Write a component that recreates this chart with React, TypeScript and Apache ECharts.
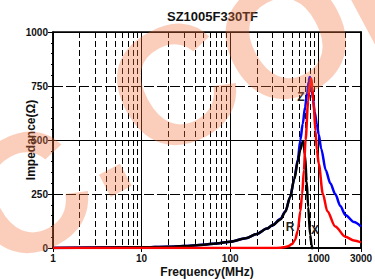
import React, { useEffect, useRef } from "react";
import * as echarts from "echarts";

const TITLE = "SZ1005F330TF";
const X_NAME = "Frequency(MHz)";
const Y_NAME = "Impedance(Ω)";
const X_MAJOR = [1, 10, 100, 1000, 3000];
const X_MINOR = [2, 3, 4, 5, 6, 7, 8, 9, 20, 30, 40, 50, 60, 70, 80, 90, 200, 300, 400, 500, 600, 700, 800, 900, 2000];

// Z (blue)
const zFreq = [1, 10, 20, 30, 50, 70, 100, 150, 200, 260, 300, 370, 420, 475, 530, 580, 620, 660, 700, 740, 770, 790, 810, 830, 860, 900, 950, 1000, 1066, 1200, 1350, 1536, 1750, 2000, 2500, 3000];
const zVal = [0.3, 3, 6, 9, 15, 21, 29, 45, 65, 90, 105, 135, 170, 235, 320, 410, 500, 575, 650, 720, 770, 792, 785, 755, 690, 630, 575, 525, 460, 360, 300, 250, 195, 153, 120, 99];

// X (black)
const xFreq = [1, 10, 20, 30, 50, 70, 100, 150, 200, 260, 300, 370, 420, 475, 530, 580, 620, 645, 670, 700, 730, 760, 800, 830, 845, 870];
const xVal = [0.3, 3, 6, 9, 15, 21, 29, 45, 65, 90, 105, 132, 168, 235, 320, 400, 455, 485, 495, 430, 310, 190, 60, 15, 0, -100];

// R (red)
const rFreq = [1, 100, 300, 370, 400, 450, 500, 540, 580, 620, 650, 680, 710, 760, 800, 823, 850, 870, 920, 953, 1000, 1114, 1250, 1536, 2000, 2500, 3000];
const rVal = [0, 0, 0, 1, 3, 8, 18, 37, 80, 170, 250, 360, 500, 680, 770, 785, 740, 680, 540, 454, 390, 250, 170, 100, 52, 35, 26];

const CURVE_LABELS = [
  { text: "Z", x: 301, y: 97 },
  { text: "R", x: 290, y: 227 },
  { text: "X", x: 315, y: 230 },
];

const WM_LETTERS = [
  { text: "C", x: 26, y: 194 },
  { text: ".", x: 94, y: 140 },
  { text: "C", x: 174, y: 86 },
  { text: "O", x: 286, y: 38 },
  { text: "M", x: 405, y: -24 },
];

const FONT = "'Liberation Sans', Arial, sans-serif";

const pairs = (f: number[], v: number[]) => f.map((x, i) => [x, v[i]]);

export default function App() {
  const ref = useRef<HTMLDivElement>(null);
  useEffect(() => {
    if (!ref.current) return;
    const chart = echarts.init(ref.current, null, { renderer: "svg" });
    const wmRot = 0.49;
    chart.setOption({
      animation: false,
      backgroundColor: "#fff",
      title: {
        text: TITLE,
        left: 167,
        top: 10,
        padding: 0,
        textStyle: { fontFamily: FONT, fontWeight: "bold", fontSize: 13, color: "#111" },
      },
      grid: {
        left: 53,
        right: 14,
        top: 32,
        bottom: 31,
        containLabel: false,
        outerBoundsMode: "none",
        show: true,
        borderColor: "#000",
        borderWidth: 1.5,
      },
      xAxis: [
        {
          type: "log",
          logBase: 10,
          min: 1,
          max: 3000,
          position: "bottom",
          name: X_NAME,
          nameLocation: "middle",
          nameGap: 18,
          nameMoveOverlap: false,
          nameTextStyle: { fontFamily: FONT, fontWeight: "bold", fontSize: 12, color: "#111", verticalAlign: "top" },
          axisLine: { show: true, lineStyle: { color: "#000", width: 1.5 } },
          axisTick: { show: true, customValues: X_MAJOR, length: 4, lineStyle: { color: "#000" } },
          axisLabel: {
            customValues: X_MAJOR,
            fontFamily: FONT,
            fontWeight: "bold",
            fontSize: 10,
            color: "#111",
            margin: 5,
            formatter: (v: number) => String(Math.round(v)),
          },
          splitLine: { show: true, lineStyle: { color: "#000", width: 1, type: "solid" } },
        },
        {
          type: "log",
          logBase: 10,
          min: 1,
          max: 3000,
          position: "top",
          axisLine: { show: true, lineStyle: { color: "#000", width: 1.5 } },
          axisTick: { show: false, customValues: X_MINOR },
          axisLabel: { show: false, customValues: X_MINOR },
          splitLine: { show: true, lineStyle: { color: "#000", width: 1, type: [6, 3] } },
        },
      ],
      yAxis: [
        {
          type: "value",
          min: 0,
          max: 1000,
          interval: 250,
          name: Y_NAME,
          nameLocation: "middle",
          nameGap: 16,
          nameMoveOverlap: false,
          nameTextStyle: { fontFamily: FONT, fontWeight: "bold", fontSize: 12, color: "#111" },
          axisLine: { show: true, lineStyle: { color: "#000", width: 1.5 } },
          axisTick: { show: true, length: 5, lineStyle: { color: "#000" } },
          minorTick: { show: true, splitNumber: 5, length: 2, lineStyle: { color: "#000" } },
          axisLabel: {
            fontFamily: FONT,
            fontWeight: "bold",
            fontSize: 10,
            color: "#111",
            margin: 5,
            formatter: (v: number) => String(v),
          },
          splitLine: { show: true, lineStyle: { color: "#000", width: 1, type: [10, 3] } },
        },
        {
          type: "value",
          min: 0,
          max: 1000,
          interval: 500,
          position: "right",
          axisLine: { show: true, lineStyle: { color: "#000", width: 1.5 } },
          axisTick: { show: false },
          axisLabel: { show: false },
          splitLine: { show: true, lineStyle: { color: "#000", width: 1, type: "solid" } },
        },
      ],
      series: [
        {
          name: "Z",
          type: "line",
          data: pairs(zFreq, zVal),
          showSymbol: false,
          smooth: 0.3,
          smoothMonotone: "x",
          lineStyle: { color: "#0000ff", width: 2.5 },
          z: 3,
        },
        {
          name: "X",
          type: "line",
          data: pairs(xFreq, xVal),
          showSymbol: false,
          smooth: 0.3,
          smoothMonotone: "x",
          clip: true,
          lineStyle: { color: "#000", width: 2.5 },
          z: 4,
        },
        {
          name: "R",
          type: "line",
          data: pairs(rFreq, rVal),
          showSymbol: false,
          smooth: 0.3,
          smoothMonotone: "x",
          lineStyle: { color: "#ff0000", width: 2.5 },
          z: 5,
        },
      ],
      graphic: [
        ...CURVE_LABELS.map((l) => ({
          type: "text",
          x: l.x,
          y: l.y,
          z: 50,
          style: {
            text: l.text,
            fill: "#222",
            font: `bold 12px ${FONT}`,
            textAlign: "center",
            textVerticalAlign: "middle",
          },
        })),
        ...WM_LETTERS.map((l) => ({
          type: "text",
          x: l.x,
          y: l.y,
          rotation: wmRot,
          z: 100,
          silent: true,
          style: {
            text: l.text,
            fill: "rgba(243,115,60,0.35)",
            font: `bold 168px ${FONT}`,
            textAlign: "center",
            textVerticalAlign: "middle",
          },
        })),
      ],
    });
    return () => chart.dispose();
  }, []);
  return <div ref={ref} style={{ width: 375, height: 279, position: "absolute", left: 0, top: 0 }} />;
}
